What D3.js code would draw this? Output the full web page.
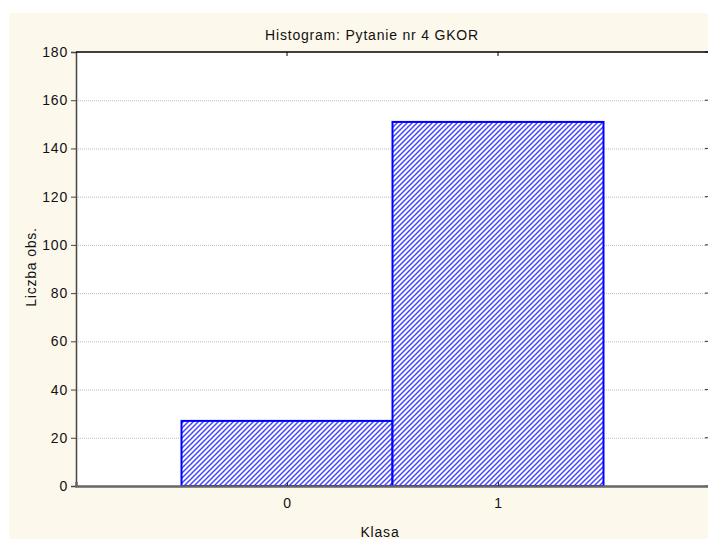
<!DOCTYPE html>
<html><head><meta charset="utf-8">
<script src="https://cdn.jsdelivr.net/npm/d3@7/dist/d3.min.js"></script>
<style>body{margin:0;background:#fff;}svg{display:block;font-family:"Liberation Sans",Arial,sans-serif;}</style>
</head><body>
<script>
const categories = [0, 1];
const counts = [27, 151];
const yTicks = [0, 20, 40, 60, 80, 100, 120, 140, 160, 180];
const title = "Histogram: Pytanie nr 4 GKOR";
const xTitle = "Klasa";
const yTitle = "Liczba obs.";

const W = 708, H = 539;
const m = {left: 76, top: 52, right: 709, bottom: 486};
const FS = 14, LS = "0.8px";
const svg = d3.select("body").append("svg").attr("width", W).attr("height", H);

svg.append("rect").attr("x", 9).attr("y", 13).attr("width", W - 9).attr("height", H - 13).attr("fill", "#fdf8ec");
svg.append("rect").attr("x", m.left).attr("y", m.top).attr("width", m.right - m.left).attr("height", m.bottom - m.top).attr("fill", "#fff");

const defs = svg.append("defs");
const pat = defs.append("pattern").attr("id", "hatch").attr("patternUnits", "userSpaceOnUse")
  .attr("width", 5).attr("height", 5);
pat.append("rect").attr("width", 5).attr("height", 5).attr("fill", "#fff");
pat.append("path").attr("d", "M-1,1 L1,-1 M0,5 L5,0 M4,6 L6,4").attr("stroke", "#4444ff").attr("stroke-width", 1.5);

const x = d3.scaleLinear().domain([-1, 2]).range([m.left, m.right]);
const y = d3.scaleLinear().domain([0, 180]).range([m.bottom, m.top]);

// gridlines
svg.append("g").selectAll("line").data(yTicks.filter(t => t > 0 && t < 180)).join("line")
  .attr("x1", m.left).attr("x2", m.right).attr("y1", d => y(d) + 0.5).attr("y2", d => y(d) + 0.5)
  .attr("stroke", "#bdbdbd").attr("stroke-width", 1).attr("stroke-dasharray", "1,1");

// bars
svg.append("g").selectAll("rect").data(categories).join("rect")
  .attr("x", (d) => x(d - 0.5)).attr("width", (d) => x(d + 0.5) - x(d - 0.5))
  .attr("y", (d, i) => y(counts[i])).attr("height", (d, i) => y(0) - y(counts[i]))
  .attr("fill", "url(#hatch)").attr("stroke", "#0000ff").attr("stroke-width", 2);

// left axis
const yAxis = d3.axisLeft(y).tickValues(yTicks).tickSize(5).tickPadding(3);
const gy = svg.append("g").attr("transform", `translate(${m.left},0)`).call(yAxis);
gy.select(".domain").attr("stroke", "#444").attr("stroke-width", 1.5);
gy.selectAll(".tick line").attr("stroke", "#444");
gy.selectAll("text").attr("font-size", FS).attr("letter-spacing", LS).attr("fill", "#111").attr("font-family", "Liberation Sans, Arial, sans-serif");

// right ticks (inward)
svg.append("g").selectAll("line").data(yTicks).join("line")
  .attr("x1", m.right - 4).attr("x2", m.right).attr("y1", d => y(d)).attr("y2", d => y(d))
  .attr("stroke", "#333");

// bottom axis
const xAxis = d3.axisBottom(x).tickValues(categories).tickSize(-4).tickPadding(12).tickFormat(d3.format("d"));
const gx = svg.append("g").attr("transform", `translate(0,${m.bottom})`).call(xAxis);
gx.select(".domain").attr("stroke", "#666").attr("stroke-width", 2.5);
gx.selectAll(".tick line").attr("stroke", "#333");
gx.selectAll("text").attr("font-size", FS).attr("letter-spacing", LS).attr("fill", "#111").attr("font-family", "Liberation Sans, Arial, sans-serif");

// top line with inward ticks
svg.append("line").attr("x1", m.left).attr("x2", m.right).attr("y1", m.top).attr("y2", m.top)
  .attr("stroke", "#000").attr("stroke-width", 1.5);
svg.append("g").selectAll("line").data(categories).join("line")
  .attr("x1", d => x(d)).attr("x2", d => x(d)).attr("y1", m.top).attr("y2", m.top + 4)
  .attr("stroke", "#000");

svg.append("text").attr("x", 372).attr("y", 40).attr("text-anchor", "middle")
  .attr("font-size", FS).attr("letter-spacing", LS).attr("fill", "#111").text(title);
svg.append("text").attr("x", 380).attr("y", 537).attr("text-anchor", "middle")
  .attr("font-size", FS).attr("letter-spacing", LS).attr("fill", "#111").text(xTitle);
svg.append("text").attr("transform", "translate(36,267) rotate(-90)").attr("text-anchor", "middle")
  .attr("font-size", FS).attr("letter-spacing", LS).attr("fill", "#111").text(yTitle);
</script>
</body></html>
